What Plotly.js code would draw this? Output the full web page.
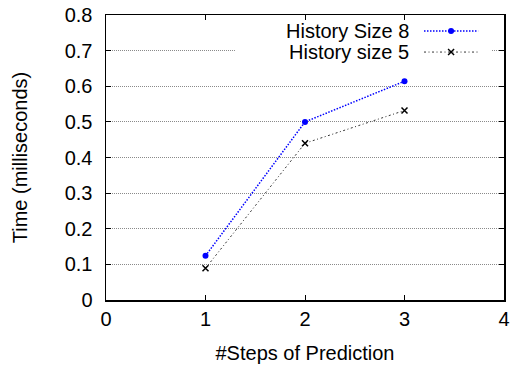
<!DOCTYPE html>
<html>
<head>
<meta charset="utf-8">
<script src="https://cdn.plot.ly/plotly-3.0.1.min.js"></script>
<style>html,body{margin:0;padding:0;background:#fff}#chart{width:511px;height:365px}</style>
</head>
<body>
<div id="chart"></div>
<script>
const steps = [1, 2, 3];
const size8 = [0.124, 0.500, 0.614];
const size5 = [0.089, 0.440, 0.532];
const seriesNames = ['History Size 8', 'History size 5'];
const xTicks = [0, 1, 2, 3, 4];
const yTicks = [0, 0.1, 0.2, 0.3, 0.4, 0.5, 0.6, 0.7, 0.8];
const yTickText = ['0', '0.1', '0.2', '0.3', '0.4', '0.5', '0.6', '0.7', '0.8'];

const FONT = 'Liberation Sans, Arial, sans-serif';
const blue = '#0000ff';
const blueDash = '1.5px,1.5px';
const blackDash = '2px,2.5px,1px,2.5px';

const traces = [
  {x: steps, y: size8, name: seriesNames[0], mode: 'lines+markers', type: 'scatter',
   line: {color: blue, width: 1.5, dash: blueDash},
   marker: {symbol: 'circle', size: 6, color: blue}},
  {x: steps, y: size5, name: seriesNames[1], mode: 'lines+markers', type: 'scatter',
   line: {color: '#333', width: 1, dash: blackDash},
   marker: {symbol: 'x-thin', size: 6, line: {color: '#000', width: 1.5}}}
];

// legend geometry (paper coords)
const lx0 = 0.799, lx1 = 0.935, lmx = 0.867;
const ly = [0.944, 0.870];

const shapes = [
  // white box behind the key, hiding part of the grid
  {type: 'rect', xref: 'x', yref: 'y', x0: 1.296, x1: 3.869, y0: 0.668, y1: 0.78,
   fillcolor: '#fff', line: {width: 0}, layer: 'between'},
  {type: 'line', xref: 'paper', yref: 'paper', x0: lx0, x1: lx1, y0: ly[0], y1: ly[0],
   line: {color: blue, width: 1.5, dash: blueDash}},
  {type: 'circle', xref: 'paper', yref: 'paper', xsizemode: 'pixel', ysizemode: 'pixel',
   xanchor: lmx, yanchor: ly[0], x0: -3, x1: 3, y0: -3, y1: 3,
   fillcolor: blue, line: {color: blue, width: 0}},
  {type: 'line', xref: 'paper', yref: 'paper', x0: lx0, x1: lx1, y0: ly[1], y1: ly[1],
   line: {color: '#333', width: 1, dash: blackDash}},
  {type: 'line', xref: 'paper', yref: 'paper', xsizemode: 'pixel', ysizemode: 'pixel',
   xanchor: lmx, yanchor: ly[1], x0: -3, x1: 3, y0: -3, y1: 3, line: {color: '#000', width: 1.5}},
  {type: 'line', xref: 'paper', yref: 'paper', xsizemode: 'pixel', ysizemode: 'pixel',
   xanchor: lmx, yanchor: ly[1], x0: -3, x1: 3, y0: 3, y1: -3, line: {color: '#000', width: 1.5}}
];

const annotations = seriesNames.map((n, i) => ({
  text: n, xref: 'paper', yref: 'paper', x: 0.766, y: ly[i], xanchor: 'right', yanchor: 'middle',
  showarrow: false, font: {family: FONT, size: 20, color: '#000'}
}));

const layout = {
  width: 511, height: 365,
  margin: {l: 106, r: 7, t: 15, b: 65},
  paper_bgcolor: '#fff', plot_bgcolor: '#fff',
  showlegend: false,
  font: {family: FONT, size: 20, color: '#000'},
  xaxis: {
    range: [0, 4], tickvals: xTicks, ticks: 'inside', ticklen: 5, tickcolor: '#000',
    showline: true, linecolor: '#000', linewidth: 1.5, mirror: 'ticks',
    showgrid: false, zeroline: false,
    tickfont: {family: FONT, size: 20},
    title: {text: '#Steps of Prediction', font: {family: FONT, size: 20}, standoff: 17}
  },
  yaxis: {
    range: [0, 0.8], tickvals: yTicks, ticktext: yTickText, ticks: 'inside', ticklen: 5, tickcolor: '#000',
    showline: true, linecolor: '#000', linewidth: 1.5, mirror: 'ticks',
    showgrid: true, gridcolor: '#8a8a8a', gridwidth: 1, griddash: '1px,1px', zeroline: false,
    ticklabelstandoff: 8,
    tickfont: {family: FONT, size: 20},
    title: {text: 'Time (milliseconds)', font: {family: FONT, size: 20}, standoff: 31}
  },
  shapes: shapes,
  annotations: annotations
};

Plotly.newPlot('chart', traces, layout, {displayModeBar: false, staticPlot: true});
</script>
</body>
</html>
